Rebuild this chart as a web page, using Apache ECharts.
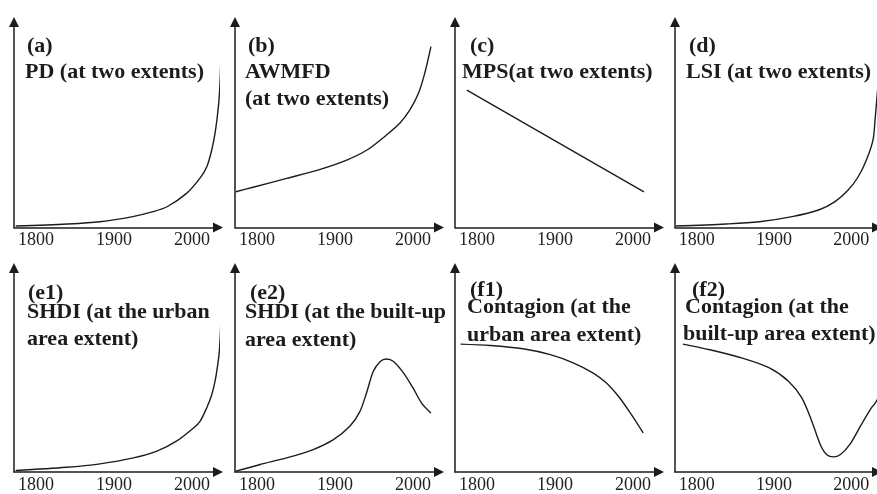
<!DOCTYPE html>
<html>
<head>
<meta charset="utf-8">
<script src="https://cdn.jsdelivr.net/npm/echarts@6/dist/echarts.min.js"></script>
<style>
html,body{margin:0;padding:0;background:#fff;}
#chart{width:877px;height:494px;}
</style>
</head>
<body>
<div id="chart"></div>
<script>
// ---- data (years on x, relative index 0-100 on y) ----
const tickYears = [1800, 1900, 2000];

const titles = [
  ["(a)", "PD (at two extents)"],
  ["(b)", "AWMFD", "(at two extents)"],
  ["(c)", "MPS(at two extents)"],
  ["(d)", "LSI (at two extents)"],
  ["(e1)", "SHDI (at the urban", "area extent)"],
  ["(e2)", "SHDI (at the built-up", "area extent)"],
  ["(f1)", "Contagion (at the", "urban area extent)"],
  ["(f2)", "Contagion (at the", "built-up area extent)"]
];

const yearsA = [1774, 1840, 1882, 1924, 1950, 1968, 1993, 2010, 2019, 2025.3, 2029.5, 2032.4, 2034.6, 2035.9, 2036.8];
const valsA  = [0.7, 1.7, 2.8, 5.3, 7.7, 10.1, 16.6, 23.9, 29.6, 37.7, 45.8, 53.9, 62, 70.2, 79.1];

const yearsB = [1773, 1795, 1838, 1881, 1915, 1941, 1966, 1983, 1996, 2007, 2015, 2023];
const valsB  = [17.4, 19.6, 23.9, 28.3, 32.8, 37.7, 45, 50.7, 57.2, 65.3, 75, 88];

const yearsC = [1787, 2014];
const valsC  = [66.9, 17.3];

const yearsD = [1773, 1838, 1881, 1923.5, 1957.7, 1979, 1996, 2009, 2019.6, 2028.2, 2030.8, 2033, 2036];
const valsD  = [0.7, 1.7, 2.8, 5.3, 8.5, 12.6, 18.2, 24.7, 32.8, 42.6, 52.3, 62, 75];

const yearsE1 = [1774, 1839, 1882, 1925, 1955, 1980, 2002, 2010.3, 2018.8, 2025.3, 2029.5, 2032.4, 2035, 2036.3, 2037.4];
const valsE1  = [0.7, 2.3, 4, 6.9, 10.2, 15.1, 21.6, 24.8, 31.4, 37.9, 44.4, 51, 59, 67.2, 78.6];

const yearsE2 = [1773, 1804, 1838, 1872, 1898, 1919, 1932, 1941, 1949, 1958, 1966, 1975, 1988, 2000, 2011, 2023];
const valsE2  = [0.4, 3.7, 6.9, 11, 15.9, 22.4, 29.7, 39.5, 49.3, 54.2, 55.4, 54.2, 48.5, 41.2, 33.8, 28.9];

const yearsF1 = [1779, 1817, 1859, 1894, 1924, 1949, 1966, 1983, 1998, 2013];
const valsF1  = [62.7, 62, 60.4, 57.5, 53.4, 48.5, 43.6, 36.3, 28.1, 19.2];

const yearsF2 = [1782, 1817, 1859, 1894, 1919, 1936, 1949, 1960, 1968, 1977, 1986, 1998, 2013, 2026, 2031, 2036];
const valsF2  = [62.7, 59.9, 55.8, 51, 44.4, 36.3, 24.8, 13.4, 8.6, 7.4, 8.6, 13.4, 23.2, 31.4, 33.8, 37];

const panelYears = [yearsA, yearsB, yearsC, yearsD, yearsE1, yearsE2, yearsF1, yearsF2];
const panelVals  = [valsA, valsB, valsC, valsD, valsE1, valsE2, valsF1, valsF2];

// ---- layout ----
const colX = [14, 235, 455, 675];
const rowTop = [22, 268];
const rowHeight = [205.5, 204.5];
const axisLen = 204;          // px length of x axis line
const pxPerYear = 0.78;
const firstTickOffset = 22;   // px from origin to 1800
const titleDx = [[13, 11, 11], [13, 10, 10], [15, 7, 7], [14, 11, 11],
                 [14, 13, 13], [15, 10, 10], [15, 12, 12], [17, 10, 8]];
const titleDy = [[46, 72, 99], [46, 72, 99], [46, 72, 99], [46, 72, 99],
                 [48.5, 67, 94], [48, 67, 95], [45, 62, 90], [45, 62, 89]];
const ink = '#1c1c1c';
const serif = '"Liberation Serif", "Times New Roman", serif';

const xMin = 1800 - firstTickOffset / pxPerYear;
const xMax = xMin + axisLen / pxPerYear;

const grids = [], xAxes = [], yAxes = [], series = [], graphics = [];
for (let i = 0; i < 8; i++) {
  const r = Math.floor(i / 4), c = i % 4;
  const left = colX[c];
  grids.push({left: left, top: rowTop[r], width: axisLen, height: rowHeight[r], containLabel: false});
  xAxes.push({
    gridIndex: i, type: 'value', min: xMin, max: xMax,
    axisLine: {show: true, onZero: false, symbol: ['none', 'triangle'], symbolSize: [10, 10],
      lineStyle: {color: ink, width: 1.5}},
    axisTick: {show: false},
    splitLine: {show: false},
    axisLabel: {customValues: tickYears, interval: 0, formatter: v => String(Math.round(v)),
      color: '#222', fontFamily: serif, fontSize: 18, margin: 4, hideOverlap: false}
  });
  yAxes.push({
    gridIndex: i, type: 'value', min: 0, max: 100,
    axisLine: {show: true, symbol: ['none', 'triangle'], symbolSize: [10, 10],
      lineStyle: {color: ink, width: 1.5}},
    axisTick: {show: false}, axisLabel: {show: false}, splitLine: {show: false}
  });
  const yrs = panelYears[i], vs = panelVals[i];
  series.push({
    type: 'line', xAxisIndex: i, yAxisIndex: i,
    data: yrs.map((y, k) => [y, vs[k]]),
    showSymbol: false, smooth: 0.3, clip: false,
    lineStyle: {color: ink, width: 1.4}, silent: true
  });
  titles[i].forEach((t, k) => {
    graphics.push({
      type: 'text',
      x: left + titleDx[i][k], y: r * 245 + titleDy[i][k],
      style: {text: t, fill: ink, fontFamily: serif, fontWeight: 'bold', fontSize: 22,
        verticalAlign: 'middle', align: 'left'}
    });
  });
}

const chart = echarts.init(document.getElementById('chart'), null, {renderer: 'canvas'});
chart.setOption({
  animation: false,
  backgroundColor: '#fff',
  grid: grids, xAxis: xAxes, yAxis: yAxes, series: series,
  graphic: {elements: graphics}
});
</script>
</body>
</html>
